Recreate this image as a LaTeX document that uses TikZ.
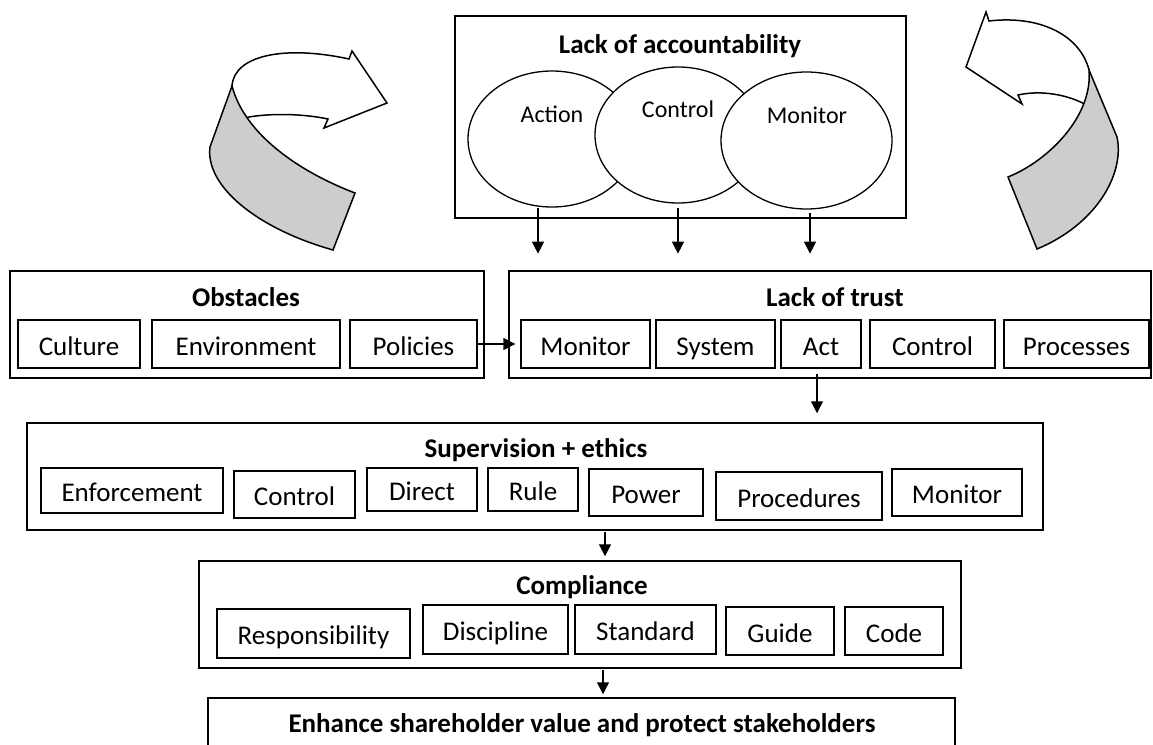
\documentclass[tikz,border=0pt]{standalone}
\usepackage{fontspec}
\setmainfont{Carlito}
\usetikzlibrary{arrows.meta,calc,shapes.geometric}
\definecolor{ribgray}{RGB}{205,205,205}
\newcommand{\boxat}[7]{%
  \pgfmathsetmacro{\myW}{#5-#3}\pgfmathsetmacro{\myH}{#6-#4}%
  \pgfmathsetmacro{\myX}{(#3+#5)/2}\pgfmathsetmacro{\myY}{(#4+#6)/2}%
  \node[#1,minimum width=\myW pt,minimum height=\myH pt] (#2) at (\myX,\myY) {#7};}
\begin{document}
\begin{tikzpicture}[x=1pt,y=-1pt,
  bigbox/.style={draw,line width=1.5pt,inner sep=0pt},
  smallbox/.style={draw,line width=1.3pt,inner sep=0pt,font=\fontsize{27}{30}\selectfont,text height=22pt,text depth=0pt},
  titletext/.style={anchor=base,font=\fontsize{27}{30}\selectfont\bfseries,inner sep=0pt},
  ellbox/.style={draw,ellipse,line width=1.3pt,fill=white,inner sep=0pt},
  elltext/.style={anchor=base,font=\fontsize{24}{28}\selectfont,inner sep=0pt},
  arr/.style={line width=1.3pt,-{Triangle[width=12pt,length=12pt]}},
  ribbon/.style={line width=1.5pt,line join=miter},
  ]
\useasboundingbox (0,0) rectangle (1153,744);
\clip (0,0) rectangle (1153,744);

% curved ribbon arrows
\draw[ribbon] (232,86) .. controls (234,55) and (285,45) .. (349,59) -- (352,51) -- (387,103) -- (324,128) -- (328,119) .. controls (300,113) and (262,113) .. (240,119);
\filldraw[ribbon,fill=ribgray] (232,86) -- (210,147) .. controls (205,185) and (255,228) .. (333,250) -- (355,193) .. controls (300,172) and (245,135) .. (232,86) -- cycle;

\draw[ribbon] (1089,70) .. controls (1080,35) and (1040,15) .. (989,21) -- (986,12) -- (966,67) -- (1022,104) -- (1018,95) .. controls (1040,90) and (1068,94) .. (1088,106);
\filldraw[ribbon,fill=ribgray] (1089,70) -- (1117,137) .. controls (1125,175) and (1095,225) .. (1037,249) -- (1008,177) .. controls (1050,160) and (1093,115) .. (1089,70) -- cycle;

% Lack of accountability
\boxat{bigbox}{acc}{455}{16}{906}{218}{}
\node[titletext] (accT) at (680,53) {Lack of accountability};
\node[ellbox,minimum width=168pt,minimum height=136pt] (actE) at (552,139) {};
\node[ellbox,minimum width=166pt,minimum height=136pt] (conE) at (678,135) {};
\node[ellbox,minimum width=171pt,minimum height=137pt] (monE) at (806.5,140.5) {};
\node[elltext] (actL) at (552,122) {Action};
\node[elltext] (conL) at (678,117) {Control};
\node[elltext] (monL) at (807,123) {Monitor};

% Obstacles
\boxat{bigbox}{obs}{10}{271}{484}{378}{}
\node[titletext] (obsT) at (246,306) {Obstacles};
\boxat{smallbox}{cul}{18}{320}{140}{368}{Culture}
\boxat{smallbox}{env}{152}{320}{340}{368}{Environment}
\boxat{smallbox}{pol}{350}{320}{477}{368}{Policies}

% Lack of trust
\boxat{bigbox}{trust}{509}{271}{1151}{378}{}
\node[titletext] (trustT) at (835,306) {Lack of trust};
\boxat{smallbox}{monA}{521}{320}{650}{368}{Monitor}
\boxat{smallbox}{sys}{656}{320}{775}{368}{System}
\boxat{smallbox}{act}{781}{320}{861}{368}{Act}
\boxat{smallbox}{conA}{870}{320}{995}{368}{Control}
\boxat{smallbox}{proc}{1004}{320}{1149}{368}{Processes}

% Supervision + ethics
\boxat{bigbox}{sup}{27}{423}{1043}{530}{}
\node[titletext] (supT) at (536,457) {Supervision + ethics};
\boxat{smallbox}{enf}{41}{468}{223}{513}{Enforcement}
\boxat{smallbox}{conB}{234}{471}{355}{518}{Control}
\boxat{smallbox}{dir}{367}{468}{477}{511}{Direct}
\boxat{smallbox}{rule}{488}{468}{578}{511}{Rule}
\boxat{smallbox}{pow}{589}{469}{703}{516}{Power}
\boxat{smallbox}{procd}{716}{472}{882}{520}{Procedures}
\boxat{smallbox}{monB}{892}{469}{1022}{516}{Monitor}

% Compliance
\boxat{bigbox}{comp}{199}{561}{961}{668}{}
\node[titletext] (compT) at (582,594) {Compliance};
\boxat{smallbox}{resp}{217}{609}{410}{658}{Responsibility}
\boxat{smallbox}{disc}{423}{605}{568}{654}{Discipline}
\boxat{smallbox}{std}{575}{605}{716}{654}{Standard}
\boxat{smallbox}{guide}{726}{607}{834}{655}{Guide}
\boxat{smallbox}{code}{845}{607}{943}{655}{Code}

% Enhance
\boxat{bigbox}{enh}{208}{698}{955}{790}{}
\node[titletext] (enhT) at (582,732) {Enhance shareholder value and protect stakeholders};

% connectors
\draw[arr] ($(actE.south)+(-14,0)$) -- ($(actE.south)+(-14,46)$);
\draw[arr] ($(conE.south)+(0,4)$) -- ($(conE.south)+(0,50)$);
\draw[arr] ($(monE.south)+(3.5,3)$) -- ($(monE.south)+(3.5,44)$);
\draw[arr] (pol.east) -- ($(monA.west)+(-5,0)$);
\draw[arr] ($(act.south)+(-4,5)$) -- ($(act.south |- sup.north)+(-4,-9)$);
\draw[arr] ($(sup.south)+(70,1)$) -- ($(comp.north)+(25,-4)$);
\draw[arr] ($(comp.south)+(23,1)$) -- ($(enh.north)+(21.5,-3)$);
\end{tikzpicture}
\end{document}
